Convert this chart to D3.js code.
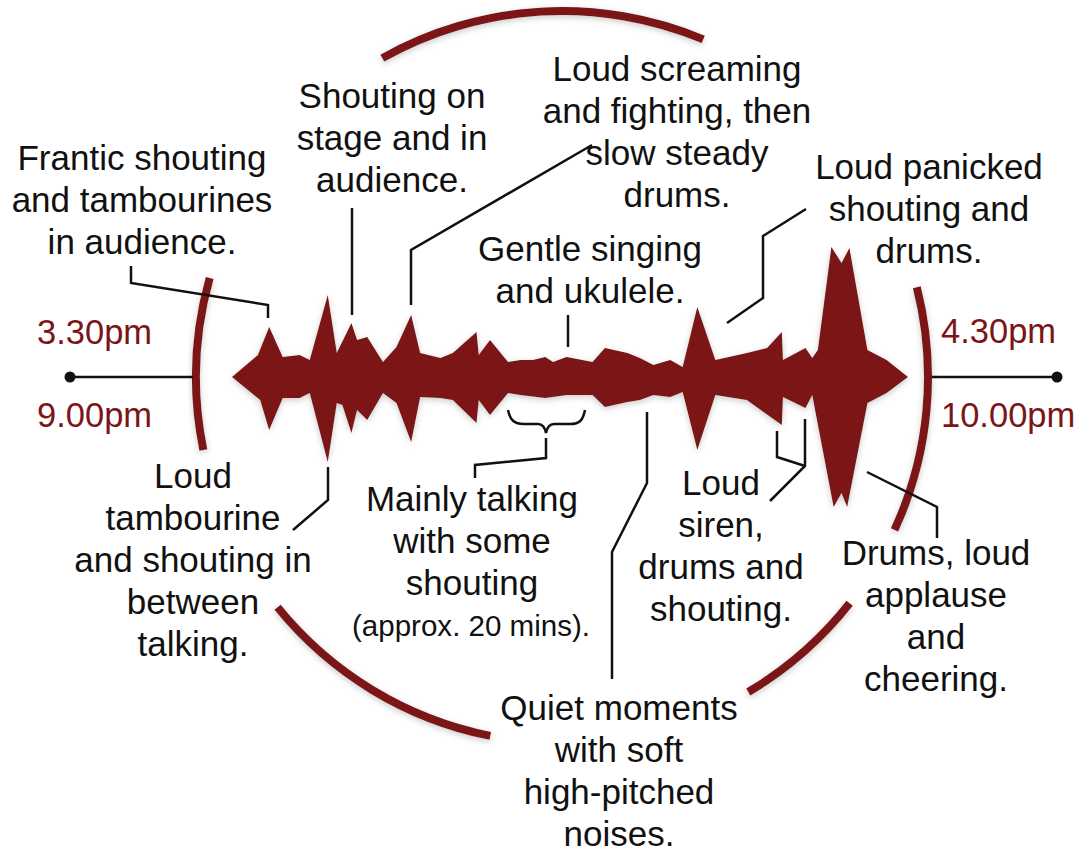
<!DOCTYPE html>
<html>
<head>
<meta charset="utf-8">
<script src="https://cdn.jsdelivr.net/npm/d3@7"></script>
<style>
  html, body { margin: 0; padding: 0; background: #fff; }
  svg { display: block; font-family: "Liberation Sans", Arial, Helvetica, sans-serif; }
</style>
</head>
<body>
<svg id="chart" width="1082" height="852"></svg>
<script>
// waveform envelope, minutes after start (0-60) and amplitude
const topMinutes = [0, 2.3, 3.3, 4.5, 6.0, 6.9, 8.5, 9.3, 10.6, 11.1, 12.0, 13.4, 14.6, 15.9, 16.7, 18.5, 19.6, 21.7, 21.9, 22.9, 24.5, 25.6, 26.7, 27.8, 28.5, 29.7, 32.0, 33.1, 35.1, 36.2, 37.4, 38.9, 40.0, 41.3, 42.9, 45.7, 47.5, 48.8, 48.9, 50.9, 51.5, 52.0, 53.2, 54.1, 54.8, 56.4, 58.1, 60];
const topAmp     = [0, 22, 50, 20, 22, 17, 82, 24, 54, 37, 40, 15, 30, 62, 24, 19, 24, 45, 22, 37, 15, 17, 17, 20, 15, 20, 15, 29, 24, 19, 12, 17, 10, 70, 17, 24, 29, 45, 17, 29, 19, 27, 130, 114, 129, 27, 17, 0];

const bottomMinutes = [0, 2.5, 3.3, 4.5, 6.0, 6.9, 8.5, 9.3, 9.8, 10.6, 11.1, 12.0, 13.4, 14.6, 15.9, 16.7, 18.5, 19.6, 21.7, 21.9, 22.9, 24.5, 25.6, 27.8, 29.7, 32.0, 33.1, 35.1, 36.2, 37.4, 38.9, 40.0, 41.3, 42.9, 45.7, 48.8, 48.9, 50.9, 51.5, 53.4, 54.1, 54.6, 56.4, 58.1, 60];
const bottomAmp     = [0, 23, 53, 21, 21, 16, 85, 26, 28, 56, 33, 43, 16, 26, 65, 20, 21, 23, 46, 23, 38, 16, 18, 21, 18, 18, 30, 25, 23, 18, 20, 15, 73, 18, 23, 48, 20, 31, 18, 130, 116, 130, 26, 16, 0];

const timeLabelsLeft  = ["3.30pm", "9.00pm"];
const timeLabelsRight = ["4.30pm", "10.00pm"];

const notes = [
  { lines: ["Frantic shouting", "and tambourines", "in audience."], cx: 142, y: 170 },
  { lines: ["Shouting on", "stage and in", "audience."], cx: 392, y: 108 },
  { lines: ["Loud screaming", "and fighting, then", "slow steady", "drums."], cx: 677, y: 81 },
  { lines: ["Gentle singing", "and ukulele."], cx: 590, y: 261 },
  { lines: ["Loud panicked", "shouting and", "drums."], cx: 929, y: 179 },
  { lines: ["Loud", "tambourine", "and shouting in", "between", "talking."], cx: 193, y: 488 },
  { lines: ["Mainly talking", "with some", "shouting"], cx: 472, y: 511 },
  { lines: ["Loud", "siren,", "drums and", "shouting."], cx: 721, y: 495 },
  { lines: ["Drums, loud", "applause", "and", "cheering."], cx: 936, y: 565 },
  { lines: ["Quiet moments", "with soft", "high-pitched", "noises."], cx: 619, y: 720 }
];

const leaders = [
  [[131, 266], [131, 283], [268, 305], [268, 318]],
  [[352, 208], [352, 315]],
  [[592, 145], [411, 250], [411, 305]],
  [[568, 315], [568, 347]],
  [[806, 209], [763, 236], [763, 298], [727, 323]],
  [[328, 467], [328, 500], [293, 530]],
  [[546, 438], [546, 458], [475, 465], [475, 478]],
  [[647, 412], [647, 483], [612, 552], [612, 679]],
  [[777, 431], [777, 457], [805, 466]],
  [[805, 419], [805, 466], [770, 501]],
  [[867, 472], [937, 507], [937, 538]]
];

// arc pieces of the surrounding ring, degrees clockwise from top
const ringPieces = [[-29.4, 22.7], [75.8, 114.7], [128.2, 149.4], [191.3, 231], [258.5, 285.7]];

const red = "#7b1519";
const svg = d3.select("#chart");

const defs = svg.append("defs");
const f = defs.append("filter").attr("id", "soft").attr("x", "-20%").attr("y", "-20%").attr("width", "140%").attr("height", "140%");
f.append("feDropShadow").attr("dx", 0).attr("dy", 2).attr("stdDeviation", 3)
  .attr("flood-color", "#888").attr("flood-opacity", 0.45);

const cx = 562, cy = 377, R = 366;

const x = d3.scaleLinear().domain([0, 60]).range([232, 908]);
const y = d3.scaleLinear().domain([-150, 150]).range([cy + 150, cy - 150]);

// ring
const arc = d3.arc().innerRadius(R - 4).outerRadius(R + 4);
svg.append("g").attr("transform", `translate(${cx},${cy})`)
  .selectAll("path").data(ringPieces).join("path")
  .attr("d", d => arc({ startAngle: d[0] * Math.PI / 180, endAngle: d[1] * Math.PI / 180 }))
  .attr("fill", red)
  .attr("filter", "url(#soft)");

// timeline axis line + dots
svg.append("line").attr("x1", 70).attr("x2", 193).attr("y1", cy).attr("y2", cy)
  .attr("stroke", "#111").attr("stroke-width", 2.5);
svg.append("line").attr("x1", 932).attr("x2", 1057).attr("y1", cy).attr("y2", cy)
  .attr("stroke", "#111").attr("stroke-width", 2.5);
svg.selectAll("circle.end").data([70, 1057]).join("circle")
  .attr("class", "end").attr("cx", d => d).attr("cy", cy).attr("r", 5.5).attr("fill", "#111");

// waveform
const pts = topMinutes.map((m, i) => [x(m), y(topAmp[i])])
  .concat(bottomMinutes.map((m, i) => [x(m), y(-bottomAmp[i])]).reverse());
svg.append("path")
  .attr("d", d3.line()(pts) + "Z")
  .attr("fill", red)
  .attr("filter", "url(#soft)");

// leader lines
svg.append("g").selectAll("path").data(leaders).join("path")
  .attr("d", d3.line())
  .attr("fill", "none").attr("stroke", "#111").attr("stroke-width", 2.5)
  .attr("stroke-linejoin", "miter");

// brace under the quiet talking stretch
svg.append("path")
  .attr("d", "M508,410 C510,420 514,424 524,424 L538,424 C543,424 545,428 546,433 C547,428 549,424 554,424 L570,424 C580,424 583,420 585,410")
  .attr("fill", "none").attr("stroke", "#111").attr("stroke-width", 2.5);

// time labels
svg.append("g").selectAll("text").data(timeLabelsLeft).join("text")
  .attr("x", 37).attr("y", (d, i) => i ? 427 : 344)
  .attr("fill", red).attr("font-size", 34.5).text(d => d);
svg.append("g").selectAll("text").data(timeLabelsRight).join("text")
  .attr("x", 941).attr("y", (d, i) => i ? 427 : 343)
  .attr("fill", red).attr("font-size", 34.5).text(d => d);

// notes
const ng = svg.append("g").attr("fill", "#111").attr("font-size", 35).attr("text-anchor", "middle");
notes.forEach(n => {
  const t = ng.append("text").attr("x", n.cx).attr("y", n.y);
  n.lines.forEach((l, i) => t.append("tspan").attr("x", n.cx).attr("y", n.y + i * 42).text(l));
});
ng.append("text").attr("x", 471).attr("y", 636).attr("font-size", 29)
  .attr("textLength", 238).attr("lengthAdjust", "spacingAndGlyphs")
  .text("(approx. 20 mins).");
</script>
</body>
</html>
